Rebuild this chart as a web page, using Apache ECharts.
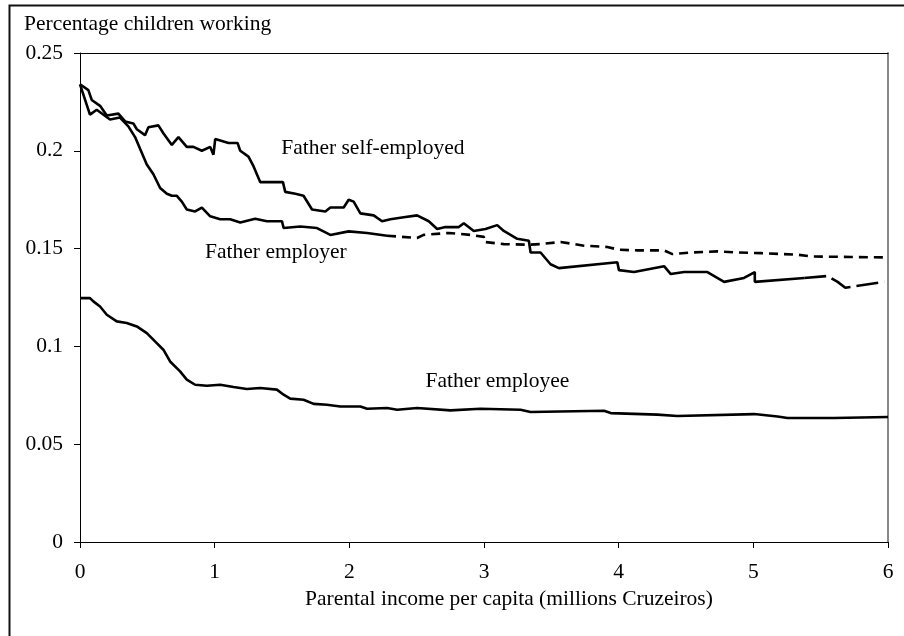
<!DOCTYPE html>
<html>
<head>
<meta charset="utf-8">
<script src="https://cdn.jsdelivr.net/npm/echarts@6/dist/echarts.min.js"></script>
<style>
  html, body { margin: 0; padding: 0; background: #fff; }
  #chart { width: 904px; height: 636px; }
</style>
</head>
<body>
<div id="chart"></div>
<script>
// income (millions Cruzeiros) / share of children working
const selfEmployed = [
  [0, 0.234], [0.062, 0.231], [0.087, 0.226], [0.149, 0.223], [0.199, 0.218],
  [0.285, 0.219], [0.335, 0.215], [0.396, 0.214], [0.422, 0.211], [0.483, 0.208],
  [0.508, 0.212], [0.582, 0.213], [0.619, 0.209], [0.682, 0.203], [0.731, 0.207],
  [0.793, 0.202], [0.842, 0.202], [0.905, 0.200], [0.967, 0.202], [0.991, 0.198],
  [1.004, 0.206], [1.054, 0.205], [1.103, 0.204], [1.170, 0.204], [1.190, 0.200],
  [1.251, 0.197], [1.289, 0.192], [1.338, 0.184], [1.507, 0.184], [1.524, 0.179],
  [1.599, 0.178], [1.660, 0.177], [1.723, 0.170], [1.822, 0.169], [1.859, 0.171],
  [1.958, 0.171], [1.995, 0.175], [2.032, 0.174], [2.082, 0.168], [2.181, 0.167],
  [2.243, 0.164], [2.305, 0.165], [2.404, 0.166], [2.503, 0.167], [2.590, 0.164],
  [2.652, 0.160], [2.714, 0.161], [2.813, 0.161], [2.850, 0.163], [2.924, 0.159],
  [3.011, 0.160], [3.098, 0.162], [3.147, 0.159], [3.247, 0.155], [3.333, 0.154],
  [3.346, 0.148], [3.420, 0.148], [3.494, 0.142], [3.556, 0.140], [3.990, 0.143],
  [4.002, 0.139], [4.114, 0.138], [4.337, 0.141], [4.387, 0.137], [4.486, 0.138],
  [4.659, 0.138], [4.783, 0.133], [4.931, 0.135], [5.011, 0.138], [5.011, 0.133],
  [5.378, 0.135]
];
const selfEmployedTail = [
  [5.378, 0.135], [5.552, 0.136], [5.626, 0.133], [5.683, 0.130], [5.972, 0.133]
];

const employer = [
  [0, 0.234], [0.074, 0.2185], [0.124, 0.221], [0.223, 0.216], [0.297, 0.217],
  [0.359, 0.2125], [0.409, 0.207], [0.446, 0.201], [0.496, 0.193], [0.545, 0.188],
  [0.595, 0.181], [0.645, 0.178], [0.682, 0.177], [0.719, 0.177], [0.756, 0.174],
  [0.793, 0.170], [0.855, 0.169], [0.905, 0.171], [0.967, 0.1665], [1.041, 0.165],
  [1.115, 0.165], [1.190, 0.1634], [1.301, 0.1653], [1.388, 0.164], [1.500, 0.164],
  [1.512, 0.1605], [1.636, 0.1613], [1.760, 0.1605], [1.859, 0.157], [1.995, 0.1588],
  [2.132, 0.158], [2.280, 0.1566]
];
const employerTail = [
  [2.280, 0.1566], [2.503, 0.1554], [2.552, 0.157], [2.738, 0.158], [2.900, 0.157],
  [2.999, 0.156], [2.999, 0.1534], [3.147, 0.1523], [3.333, 0.152], [3.420, 0.1523],
  [3.569, 0.1534], [3.742, 0.1515], [3.916, 0.1508], [4.002, 0.1494], [4.139, 0.1491],
  [4.337, 0.1491], [4.399, 0.1472], [4.535, 0.148], [4.734, 0.1486], [4.883, 0.148],
  [5.056, 0.1477], [5.329, 0.1469], [5.428, 0.146], [5.725, 0.1457], [6.0, 0.1455]
];

const employee = [
  [0, 0.1247], [0.074, 0.1247], [0.099, 0.123], [0.149, 0.1204], [0.199, 0.1162],
  [0.273, 0.1128], [0.347, 0.112], [0.422, 0.1102], [0.496, 0.1068], [0.570, 0.1017],
  [0.619, 0.0983], [0.669, 0.0923], [0.743, 0.0872], [0.793, 0.083], [0.855, 0.0804],
  [0.942, 0.0799], [1.041, 0.0804], [1.140, 0.0792], [1.239, 0.0782], [1.338, 0.0787],
  [1.462, 0.0779], [1.512, 0.0753], [1.561, 0.0733], [1.660, 0.0727], [1.735, 0.0706],
  [1.834, 0.0702], [1.933, 0.0693], [2.082, 0.0693], [2.132, 0.0681], [2.280, 0.0685],
  [2.355, 0.0676], [2.503, 0.0685], [2.751, 0.0673], [2.974, 0.0681], [3.271, 0.0676],
  [3.346, 0.0665], [3.891, 0.0671], [3.941, 0.0659], [4.288, 0.0651], [4.436, 0.0644],
  [5.006, 0.0654], [5.019, 0.0646], [5.180, 0.0642], [5.254, 0.0634], [5.601, 0.0634],
  [6.0, 0.0639]
];

// in-plot labels: [x, y, text]
const curveLabels = [
  [1.494, 0.2011, 'Father self-employed'],
  [0.929, 0.1479, 'Father employer'],
  [2.565, 0.0820, 'Father employee']
];

const xTicks = [0, 6, 1];
const yTicks = [0, 0.25, 0.05];

const font = "'Liberation Serif', 'Times New Roman', serif";
const fs = 21.5;
const chart = echarts.init(document.getElementById('chart'));

const lineSeries = (name, data, dash) => ({
  name: name,
  type: 'line',
  data: data,
  showSymbol: false,
  symbol: 'none',
  lineStyle: { color: '#000', width: 2.6, type: dash || 'solid' },
  z: 3
});

chart.setOption({
  animation: false,
  backgroundColor: '#fff',
  textStyle: { fontFamily: font, color: '#000' },
  title: {
    text: 'Percentage children working',
    left: 19,
    top: 8,
    textStyle: { fontFamily: font, fontSize: fs, fontWeight: 'normal', color: '#000' }
  },
  graphic: [{
    type: 'rect',
    left: 7,
    top: 3,
    shape: { width: 1000, height: 1000 },
    style: { fill: 'none', stroke: '#111', lineWidth: 2 },
    silent: true
  }],
  grid: { left: 80, right: 16, top: 53, bottom: 94, containLabel: false },
  xAxis: [{
    type: 'value',
    min: xTicks[0],
    max: xTicks[1],
    interval: xTicks[2],
    name: 'Parental income per capita (millions Cruzeiros)',
    nameLocation: 'middle',
    nameGap: 45,
    nameTextStyle: { fontFamily: font, fontSize: fs, color: '#000', padding: [0, 0, 0, 50] },
    axisLine: { lineStyle: { color: '#000', width: 1 } },
    axisTick: { inside: false, length: 6, lineStyle: { color: '#000' } },
    axisLabel: { fontFamily: font, fontSize: fs, color: '#000', margin: 19 },
    splitLine: { show: false }
  }, {
    type: 'value',
    position: 'top',
    min: xTicks[0],
    max: xTicks[1],
    axisLine: { show: true, onZero: false, lineStyle: { color: '#000', width: 1 } },
    axisTick: { show: false },
    axisLabel: { show: false },
    splitLine: { show: false }
  }],
  yAxis: [{
    type: 'value',
    min: yTicks[0],
    max: yTicks[1],
    interval: yTicks[2],
    axisLine: { show: true, lineStyle: { color: '#000', width: 1 } },
    axisTick: { show: true, length: 6, lineStyle: { color: '#000' } },
    axisLabel: { fontFamily: font, fontSize: fs, color: '#000', margin: 17 },
    splitLine: { show: false }
  }, {
    type: 'value',
    position: 'right',
    min: yTicks[0],
    max: yTicks[1],
    axisLine: { show: true, onZero: false, lineStyle: { color: '#888', width: 2 } },
    axisTick: { show: false },
    axisLabel: { show: false },
    splitLine: { show: false }
  }],
  series: [
    lineSeries('Father self-employed', selfEmployed),
    lineSeries('Father self-employed', selfEmployedTail, [22, 6]),
    lineSeries('Father employer', employer),
    lineSeries('Father employer', employerTail, [9, 6]),
    lineSeries('Father employee', employee),
    {
      type: 'scatter',
      symbolSize: 0,
      itemStyle: { opacity: 1 },
      data: curveLabels.map(d => ({ value: [d[0], d[1]], name: d[2] })),
      label: {
        show: true,
        position: [0, 0],
        align: 'left',
        verticalAlign: 'middle',
        formatter: p => p.name,
        fontFamily: font,
        fontSize: fs,
        color: '#000',
        opacity: 1
      },
      silent: true,
      z: 4
    }
  ]
});
</script>
</body>
</html>
